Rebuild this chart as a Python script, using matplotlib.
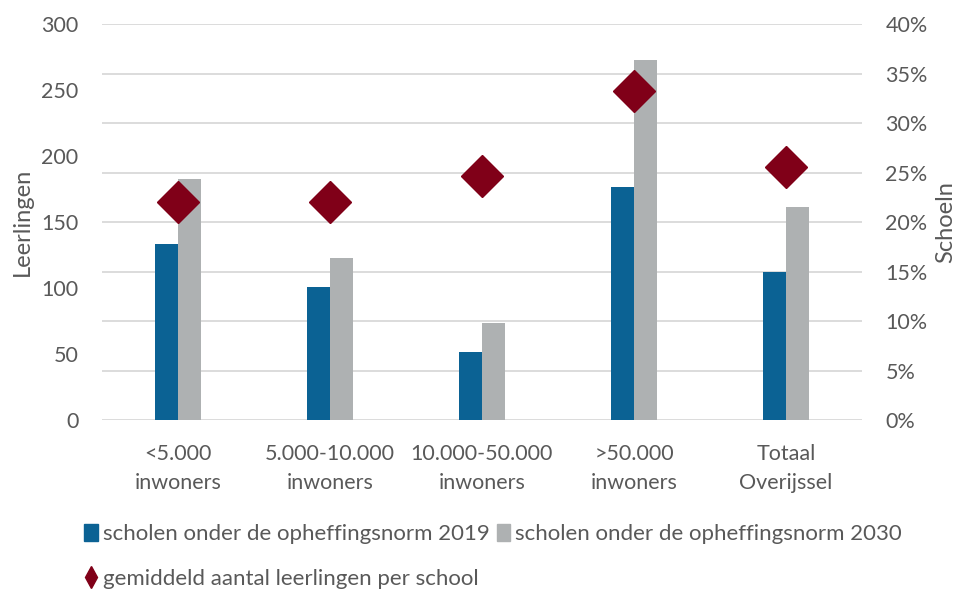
import matplotlib
matplotlib.use("Agg")
import matplotlib.pyplot as plt
from matplotlib.lines import Line2D
from matplotlib.patches import Patch
from matplotlib.ticker import FuncFormatter
import numpy as np

categories = ["<5.000\ninwoners", "5.000-10.000\ninwoners", "10.000-50.000\ninwoners",
              ">50.000\ninwoners", "Totaal\nOverijssel"]
scholen_2019 = [17.8, 13.4, 6.9, 23.5, 15.0]   # % of schools
scholen_2030 = [24.4, 16.4, 9.8, 36.4, 21.5]   # % of schools
gem_leerlingen = [165, 165, 185, 249, 192]     # pupils per school

BLUE = "#0b6294"
GRAY = "#aeb1b2"
RED = "#800018"
TXT = "#595959"
GRID = "#d9d9d9"

plt.rcParams['font.family'] = ['Lato', 'DejaVu Sans']

fig = plt.figure(figsize=(9.63, 5.90), dpi=100)
ax = fig.add_axes([0.106, 0.288, 0.789, 0.671])
x = np.arange(len(categories))
w = 0.15
ax.bar(x - w/2, scholen_2019, width=w, color=BLUE, zorder=2)
ax.bar(x + w/2, scholen_2030, width=w, color=GRAY, zorder=2)
ax.set_ylim(0, 40)
ax.set_xlim(-0.5, len(categories) - 0.5)
ax.grid(axis='y', color=GRID, linewidth=1.3, zorder=0)
ax.set_axisbelow(True)
ax.set_xticks(x)
ax.set_xticklabels(categories, fontsize=15.5, color=TXT, linespacing=1.6)
ax.tick_params(axis='x', length=0, pad=17)
for s in ax.spines.values():
    s.set_visible(False)

ax2 = ax.twinx()
ax2.plot(x, gem_leerlingen, linestyle='none', marker='D', markersize=21.5,
         color=RED, zorder=5)
ax2.set_ylim(0, 300)
ax2.set_yticks(np.arange(0, 301, 50))
ax2.yaxis.tick_left()
ax2.yaxis.set_label_position("left")
ax2.set_ylabel("Leerlingen", color=TXT, fontsize=17, labelpad=6)
ax2.tick_params(axis='y', length=0, labelsize=15.5, labelcolor=TXT, pad=17)
for s in ax2.spines.values():
    s.set_visible(False)

# percentage axis on the right (set after twinx, which resets it)
ax.yaxis.tick_right()
ax.yaxis.set_label_position("right")
ax.set_yticks(np.arange(0, 41, 5))
ax.yaxis.set_major_formatter(FuncFormatter(lambda v, p: f"{int(v)}%"))
ax.set_ylabel("Schoeln", color=TXT, fontsize=17, labelpad=5)
ax.tick_params(axis='y', length=0, labelsize=15.5, labelcolor=TXT, pad=17,
               left=False, labelleft=False, right=False, labelright=True)

handles = [Patch(color=BLUE), Line2D([], [], linestyle='none', marker='d', color=RED, markersize=11),
           Patch(color=GRAY)]
labels = ["scholen onder de opheffingsnorm 2019", "gemiddeld aantal leerlingen per school",
          "scholen onder de opheffingsnorm 2030"]
fig.legend(handles, labels, ncol=2, loc='upper left', bbox_to_anchor=(0.076, 0.131),
           frameon=False, fontsize=16, labelcolor=TXT, handlelength=0.6, handleheight=0.8,
           handletextpad=0.25, columnspacing=0.3, labelspacing=1.1, borderpad=0)

fig.savefig("out.png", dpi=100)
